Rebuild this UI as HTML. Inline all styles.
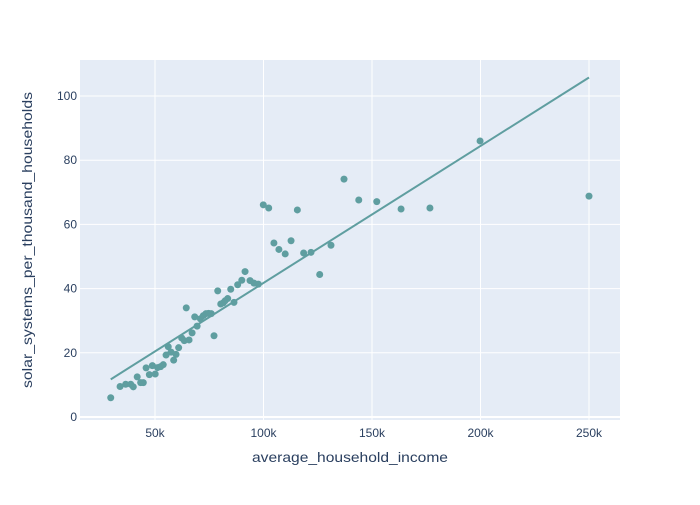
<!DOCTYPE html>
<html><head><meta charset="utf-8"><style>
body{margin:0;background:#fff;font-family:"Liberation Sans",sans-serif;}
svg text{font-family:"Liberation Sans",sans-serif;fill:#2a3f5f;}
</style></head><body>
<svg id="chart" width="700" height="500">
<rect x="80" y="60" width="540" height="360" fill="#E5ECF6"/>
<g id="grid"></g><g id="marks"></g><g id="ticks"></g>
<text x="350" y="462" text-anchor="middle" font-size="14" textLength="196" lengthAdjust="spacingAndGlyphs">average_household_income</text>
<text transform="translate(32,240) rotate(-90)" text-anchor="middle" font-size="14" textLength="296" lengthAdjust="spacingAndGlyphs">solar_systems_per_thousand_households</text>
</svg>
<script>
const incomeK=[29.6,33.9,36.5,38.8,40.0,41.8,43.4,44.6,45.9,47.4,48.8,50.1,51.2,52.6,53.8,55.1,56.1,57.4,58.6,59.7,60.9,62.3,63.5,65.7,64.4,67.1,68.3,69.4,70.9,72.3,73.5,74.7,75.9,77.2,78.9,80.3,81.5,82.3,83.5,84.9,86.4,88.1,90.0,91.5,93.8,95.6,97.6,99.9,102.4,115.6,104.8,107.1,110.0,112.7,118.5,121.9,125.9,131.1,137.1,143.9,152.2,163.4,176.7,199.8,250.0];
const solar=[6.0,9.5,10.2,10.2,9.4,12.5,10.7,10.7,15.3,13.2,16.0,13.4,15.4,15.7,16.3,19.3,21.9,20.2,17.7,19.5,21.6,24.6,23.8,24.0,34.0,26.2,31.2,28.3,30.6,31.6,32.2,32.3,32.2,25.3,39.3,35.2,35.6,36.2,36.9,39.8,35.7,41.2,42.6,45.3,42.5,41.7,41.4,66.1,65.1,64.5,54.2,52.2,50.8,54.9,51.1,51.3,44.4,53.5,74.1,67.6,67.1,64.8,65.1,86.0,68.8];
const xTicks=[50,100,150,200,250];
const xTickLabels=["50k","100k","150k","200k","250k"];
const yTicks=[0,20,40,60,80,100];
const NS="http://www.w3.org/2000/svg";
const sx=v=>46.5+v*2.17;
const sy=v=>417-v*3.21;
function mk(tag,attrs,parent){const e=document.createElementNS(NS,tag);for(const k in attrs)e.setAttribute(k,attrs[k]);document.getElementById(parent).appendChild(e);return e;}
xTicks.forEach((t,i)=>{
 const g=mk('line',{x1:sx(t),x2:sx(t),y1:60,y2:420,stroke:'#fff','stroke-width':1},'grid');
 
 
 const l=mk('text',{x:sx(t),y:437,'text-anchor':'middle','font-size':12},'ticks');
 l.textContent=xTickLabels[i];
 
 
});
yTicks.forEach(t=>{
 const g=mk('line',{x1:80,x2:620,y1:sy(t),y2:sy(t),stroke:'#fff','stroke-width':t===0?2:1},'grid');
 
 
 const l=mk('text',{x:77,y:sy(t)+4,'text-anchor':'end','font-size':12},'ticks');
 l.textContent=String(t);
 
 
});
incomeK.forEach((x,i)=>{
 const c=mk('circle',{cx:sx(x),cy:sy(solar[i]),r:3.5,fill:'#5F9EA0'},'marks');
 
 
});
const n=incomeK.length;
const mx=incomeK.reduce((a,b)=>a+b,0)/n, my=solar.reduce((a,b)=>a+b,0)/n;
let sxy=0,sxx=0;for(let i=0;i<n;i++){sxy+=(incomeK[i]-mx)*(solar[i]-my);sxx+=(incomeK[i]-mx)**2;}
const b=sxy/sxx,a=my-b*mx;
const xmin=Math.min(...incomeK),xmax=Math.max(...incomeK);
const tl=mk('line',{x1:sx(xmin),y1:sy(a+b*xmin),x2:sx(xmax),y2:sy(a+b*xmax),stroke:'#5F9EA0','stroke-width':2},'marks');


</script>
</body></html>
